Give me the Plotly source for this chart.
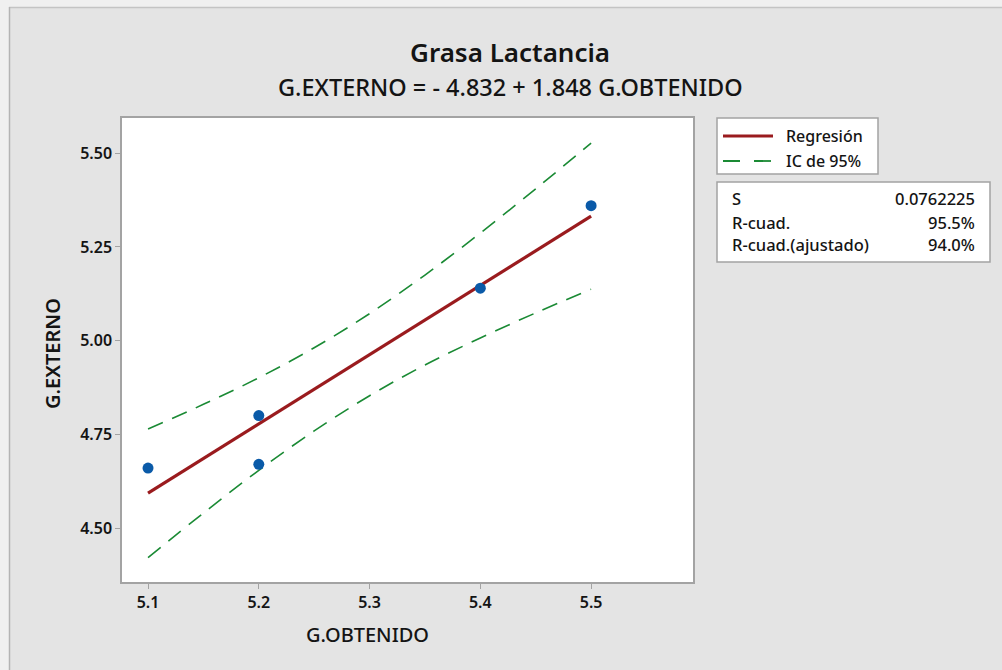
import plotly.graph_objects as go

# ---- data ----
obtenido = [5.1, 5.2, 5.2, 5.4, 5.5]
externo = [4.66, 4.80, 4.67, 5.14, 5.36]

fit_x = [5.1, 5.5]
fit_y = [4.593, 5.332]

ci_x = [5.1, 5.15, 5.2, 5.25, 5.3, 5.35, 5.4, 5.45, 5.5]
ci_upper = [4.764, 4.830, 4.901, 4.981, 5.072, 5.175, 5.287, 5.405, 5.527]
ci_lower = [4.421, 4.540, 4.654, 4.759, 4.853, 4.935, 5.007, 5.074, 5.137]

x_ticks = [5.1, 5.2, 5.3, 5.4, 5.5]
y_ticks = [4.50, 4.75, 5.00, 5.25, 5.50]

title = "Grasa Lactancia"
subtitle = "G.EXTERNO = - 4.832 + 1.848 G.OBTENIDO"
legend_labels = ["Regresión", "IC de 95%"]
stats_labels = ["S", "R-cuad.", "R-cuad.(ajustado)"]
stats_values = ["0.0762225", "95.5%", "94.0%"]

# ---- layout geometry (pixels) ----
W, H = 1002, 670
L, R, T, B = 122, 693, 118, 582
FONT = "Noto Sans"
TXT = "#141414"
RED = "#9a1b1e"
GREEN = "#1a8a34"
BLUE = "#0a5aa8"
BORDER = "#a3a3a3"


def px(x):
    return (x - L) / (R - L)


def py(y):
    return (B - y) / (B - T)


fig = go.Figure()

fig.add_trace(go.Scatter(x=ci_x, y=ci_upper, mode="lines", line_shape="spline",
                         line=dict(color=GREEN, width=1.6, dash="16px,10px"),
                         showlegend=False, hoverinfo="skip"))
fig.add_trace(go.Scatter(x=ci_x, y=ci_lower, mode="lines", line_shape="spline",
                         line=dict(color=GREEN, width=1.6, dash="16px,10px"),
                         showlegend=False, hoverinfo="skip"))
fig.add_trace(go.Scatter(x=fit_x, y=fit_y, mode="lines",
                         line=dict(color=RED, width=3.2),
                         showlegend=False))
fig.add_trace(go.Scatter(x=obtenido, y=externo, mode="markers",
                         marker=dict(color=BLUE, size=11),
                         showlegend=False))

shapes = []
# outer lighter strips and frame lines
shapes.append(dict(type="rect", xref="paper", yref="paper", x0=px(0), x1=px(W), y0=py(0), y1=py(7),
                   fillcolor="#f0f0f0", line=dict(width=0), layer="above"))
shapes.append(dict(type="rect", xref="paper", yref="paper", x0=px(0), x1=px(9), y0=py(0), y1=py(H),
                   fillcolor="#f0f0f0", line=dict(width=0), layer="above"))
shapes.append(dict(type="line", xref="paper", yref="paper", x0=px(9), x1=px(W), y0=py(7.5), y1=py(7.5),
                   line=dict(color="#c4c4c4", width=1.5), layer="above"))
shapes.append(dict(type="line", xref="paper", yref="paper", x0=px(9.5), x1=px(9.5), y0=py(7), y1=py(H),
                   line=dict(color="#b4b4b4", width=1.5), layer="above"))

# legend box
shapes.append(dict(type="rect", xref="paper", yref="paper", x0=px(717), x1=px(878), y0=py(118), y1=py(174),
                   fillcolor="white", line=dict(color=BORDER, width=1.5), layer="above"))
shapes.append(dict(type="line", xref="paper", yref="paper", x0=px(723), x1=px(773), y0=py(136), y1=py(136),
                   line=dict(color=RED, width=3.2), layer="above"))
shapes.append(dict(type="line", xref="paper", yref="paper", x0=px(723), x1=px(771), y0=py(161), y1=py(161),
                   line=dict(color=GREEN, width=1.8, dash="17px,14px"), layer="above"))
# stats box
shapes.append(dict(type="rect", xref="paper", yref="paper", x0=px(717), x1=px(990), y0=py(182), y1=py(262),
                   fillcolor="white", line=dict(color=BORDER, width=1.5), layer="above"))

ann = []
ann.append(dict(text=title, x=px(510), y=py(52), xref="paper", yref="paper", showarrow=False,
                xanchor="center", yanchor="middle",
                font=dict(family=FONT, size=26, color=TXT, weight=600)))
ann.append(dict(text=subtitle, x=px(510), y=py(87), xref="paper", yref="paper", showarrow=False,
                xanchor="center", yanchor="middle", font=dict(family=FONT, size=23.5, color=TXT, weight=500)))
ann.append(dict(text="G.OBTENIDO", x=px(367), y=py(634), xref="paper", yref="paper", showarrow=False,
                xanchor="center", yanchor="middle", font=dict(family=FONT, size=20, color=TXT, weight=500)))
ann.append(dict(text="G.EXTERNO", x=px(52), y=py(354), xref="paper", yref="paper", showarrow=False,
                textangle=-90, xanchor="center", yanchor="middle",
                font=dict(family=FONT, size=20, color=TXT, weight=600)))
for lbl, yy in zip(legend_labels, [136, 161]):
    ann.append(dict(text=lbl, x=px(784), y=py(yy), xref="paper", yref="paper", showarrow=False,
                    xanchor="left", yanchor="middle", font=dict(family=FONT, size=16, color=TXT, weight=500)))
for lbl, val, yy in zip(stats_labels, stats_values, [198, 222, 245]):
    ann.append(dict(text=lbl, x=px(730), y=py(yy), xref="paper", yref="paper", showarrow=False,
                    xanchor="left", yanchor="middle", font=dict(family=FONT, size=16.5, color=TXT, weight=500)))
    ann.append(dict(text=val, x=px(977), y=py(yy), xref="paper", yref="paper", showarrow=False,
                    xanchor="right", yanchor="middle", font=dict(family=FONT, size=16.5, color=TXT, weight=500)))

fig.update_layout(
    width=W, height=H,
    margin=dict(l=L, r=W - R, t=T, b=H - B),
    paper_bgcolor="#e4e4e4",
    plot_bgcolor="white",
    showlegend=False,
    shapes=shapes,
    annotations=ann,
    font=dict(family=FONT, color=TXT),
)
fig.update_xaxes(range=[5.0765, 5.592], tickvals=x_ticks, tickformat=".1f",
                 showgrid=False, zeroline=False, showline=True, linecolor=BORDER, linewidth=1.5,
                 mirror=True, ticks="outside", ticklen=5, tickcolor=BORDER, tickwidth=1.2,
                 tickfont=dict(family=FONT, size=16, color=TXT, weight=600))
fig.update_yaxes(range=[4.356, 5.594], tickvals=y_ticks, tickformat=".2f",
                 showgrid=False, zeroline=False, showline=True, linecolor=BORDER, linewidth=1.5,
                 mirror=True, ticks="outside", ticklen=5, tickcolor=BORDER, tickwidth=1.2,
                 tickfont=dict(family=FONT, size=16, color=TXT, weight=600))

fig.write_html("out.html", config={"displayModeBar": False},
               post_script="document.body.style.margin='0';document.body.style.padding='0';")
